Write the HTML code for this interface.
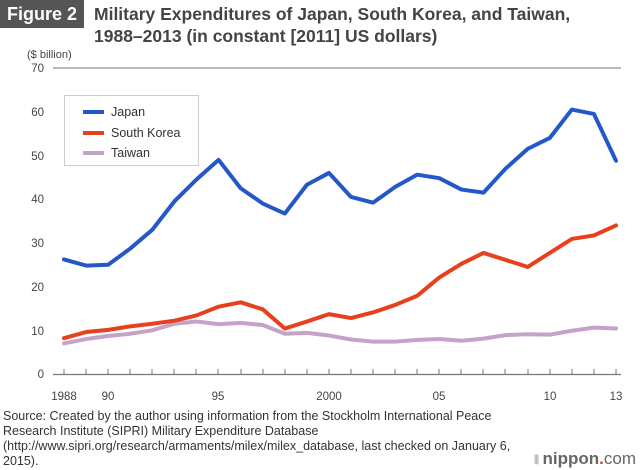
<!DOCTYPE html>
<html><head><meta charset="utf-8"><style>
body{margin:0;width:640px;height:470px;background:#fff;font-family:"Liberation Sans",sans-serif;overflow:hidden;position:relative}
.fig{position:absolute;left:0;top:0;width:84px;height:28px;background:#555;color:#fff;font-weight:bold;font-size:18px;line-height:28px;text-align:center}
.t{position:absolute;left:94px;top:3px;font-size:17.5px;font-weight:bold;color:#444;line-height:22px}
.src{position:absolute;left:3px;top:409px;font-size:12.5px;color:#333;line-height:15px}
.logo{position:absolute;right:4px;top:449px;font-size:17px;font-weight:bold;color:#666}
</style></head><body>
<div class="fig">Figure 2</div>
<div class="t">Military Expenditures of Japan, South Korea, and Taiwan,<br>1988–2013 (in constant [2011] US dollars)</div>
<svg width="640" height="470" style="position:absolute;left:0;top:0" font-family="Liberation Sans, sans-serif">
<text x="27" y="70" font-size="11" fill="#444" transform="translate(0,-12)">($ billion)</text>
<g font-size="11.5" fill="#444" text-anchor="end">
<text x="44" y="72">70</text><text x="44" y="116">60</text><text x="44" y="160">50</text><text x="44" y="203">40</text><text x="44" y="247">30</text><text x="44" y="291">20</text><text x="44" y="335">10</text><text x="44" y="378">0</text></g>
<line x1="53" y1="68" x2="621" y2="68" stroke="#777" stroke-width="1"/>
<line x1="53" y1="374.5" x2="621" y2="374.5" stroke="#777" stroke-width="1.2"/>
<g stroke="#777">
<path d="M64 369v5M86 369v5M108 369v5M130 369v5M152 369v5M174 369v5M196 369v5M218 369v5M241 369v5M263 369v5M285 369v5M307 369v5M329 369v5M351 369v5M373 369v5M395 369v5M417 369v5M439 369v5M461 369v5M483 369v5M505 369v5M528 369v5M550 369v5M572 369v5M594 369v5M616 369v5"/></g>
<g font-size="11.5" fill="#444" text-anchor="middle">
<text x="64" y="400">1988</text><text x="108" y="400">90</text><text x="218" y="400">95</text><text x="329" y="400">2000</text><text x="439" y="400">05</text><text x="550" y="400">10</text><text x="616" y="400">13</text></g>
<rect x="64.5" y="95.5" width="134" height="70" fill="#fff" stroke="#ccc"/>
<line x1="83" y1="112" x2="104" y2="112" stroke="#2458c8" stroke-width="4"/>
<line x1="83" y1="133" x2="104" y2="133" stroke="#e8401c" stroke-width="4"/>
<line x1="83" y1="153" x2="104" y2="153" stroke="#c3a3c8" stroke-width="4"/>
<g font-size="12.5" fill="#333"><text x="111" y="116">Japan</text><text x="111" y="137">South Korea</text><text x="111" y="157">Taiwan</text></g>
<g transform="translate(64,374) scale(22.08,-4.371)" fill="none" stroke-linejoin="round" stroke-linecap="round">
<polyline vector-effect="non-scaling-stroke" stroke="#c3a3c8" stroke-width="4" points="0,7 1,8 2,8.7 3,9.2 4,10 5,11.5 6,12 7,11.4 8,11.7 9,11.2 10,9.2 11,9.4 12,8.8 13,7.9 14,7.4 15,7.4 16,7.8 17,8 18,7.6 19,8.1 20,8.9 21,9.1 22,9 23,9.9 24,10.6 25,10.4"/>
<polyline vector-effect="non-scaling-stroke" stroke="#e8401c" stroke-width="4" points="0,8.2 1,9.6 2,10.1 3,10.9 4,11.5 5,12.2 6,13.4 7,15.4 8,16.4 9,14.8 10,10.4 11,12 12,13.7 13,12.8 14,14.1 15,15.8 16,17.9 17,22.1 18,25.2 19,27.7 20,26.1 21,24.5 22,27.7 23,30.9 24,31.7 25,34"/>
<polyline vector-effect="non-scaling-stroke" stroke="#2458c8" stroke-width="4" points="0,26.2 1,24.8 2,25 3,28.7 4,33 5,39.5 6,44.5 7,49 8,42.5 9,39 10,36.7 11,43.3 12,46 13,40.5 14,39.2 15,42.8 16,45.6 17,44.8 18,42.2 19,41.5 20,47 21,51.5 22,54 23,60.5 24,59.5 25,48.8"/>
</g>
</svg>
<div class="src">Source: Created by the author using information from the Stockholm International Peace<br>Research Institute (SIPRI) Military Expenditure Database<br>(http://www.sipri.org/research/armaments/milex/milex_database, last checked on January 6,<br>2015).</div>
<div class="logo"><span style="color:#bbb;font-size:12px">⦀ </span>nippon<span style="color:#e8401c">.</span><span style="font-weight:normal">com</span></div>
</body></html>
